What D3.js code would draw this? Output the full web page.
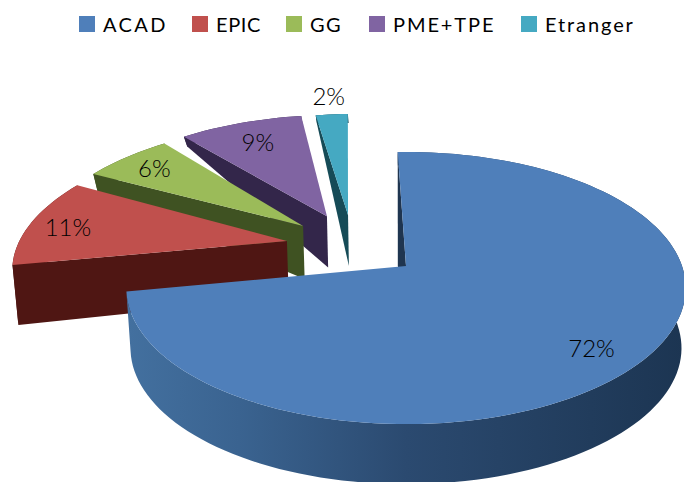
<!DOCTYPE html>
<html>
<head>
<meta charset="utf-8">
<script src="https://d3js.org/d3.v7.min.js"></script>
<style>
html, body { margin: 0; padding: 0; background: #fff; }
text { font-family: "Lato", sans-serif; fill: #000; }
</style>
</head>
<body>
<script>
var categories = ["ACAD", "EPIC", "GG", "PME+TPE", "Etranger"];
var shares = [72, 11, 6, 9, 2];
var labels = ["72%", "11%", "6%", "9%", "2%"];
var topColors = ["#4f7fba", "#c0504d", "#9bbb59", "#8064a2", "#45a9c2"];
var sideColors = ["#1f3550", "#4f1613", "#3f5222", "#33264a", "#164b57"];

var width = 684, height = 482;

// ground plane -> screen, the pie is seen in perspective
var cx = 406, cy = 266, rx = 276, ry = 132.5, persp = 0.162;

// how far each wedge is pulled out, on the ground plane
var pullX = [0, -0.445, -0.392, -0.305, -0.224];
var pullZ = [0, 0.194, 0.317, 0.4, 0.41];
// small corrections of the wedge edges, degrees
var turnStart = [-2, 0, -1, -1, -3];
var turnEnd = [0, 0, 0, -2, -2];
// label place: radius and turn from the middle of the wedge
var labelR = [0.83, 0.85, 0.83, 0.78, 1.22];
var labelTurn = [4, -1, 0, 0, 0];
// ACAD's cut face drops further than its back wall
var cutDrop = [100, 0, 0, 0, 0];

// the wall gets thin towards the back
var depth = d3.scaleLinear()
	.domain([0, 0.41, 0.8, 1.2])
	.range([60, 51, 18, 9])
	.clamp(true);

var legendX = d3.scaleOrdinal().domain(categories).range([79, 192, 286, 369, 521]);
var legendSpacing = [2.4, 0.6, 1.4, 1.9, 1.9];

var svg = d3.select("body").append("svg")
	.attr("width", width)
	.attr("height", height)
	.style("display", "block");

var defs = svg.append("defs");
var wallFill = defs.append("linearGradient")
	.attr("id", "wallFill")
	.attr("gradientUnits", "userSpaceOnUse")
	.attr("x1", 128).attr("x2", 684).attr("y1", 0).attr("y2", 0);
wallFill.append("stop").attr("offset", "0").attr("stop-color", "#43709f");
wallFill.append("stop").attr("offset", "0.2").attr("stop-color", "#3a6390");
wallFill.append("stop").attr("offset", "0.5").attr("stop-color", "#2b4a70");
wallFill.append("stop").attr("offset", "1").attr("stop-color", "#1c3552");

function project(X, Z) {
	var s = 1 / (1 + persp * Z);
	return [cx + rx * X * s, cy - ry * Z * s];
}

var pie = d3.pie().sort(null);
var arcs = pie(shares);
var rad = Math.PI / 180;
var line = d3.line();

function wedge(i) {
	return {
		a0: arcs[i].startAngle + turnStart[i] * rad,
		a1: arcs[i].endAngle + turnEnd[i] * rad,
		ox: pullX[i],
		oz: pullZ[i]
	};
}

function rim(w) {
	var pts = [], steps = Math.ceil((w.a1 - w.a0) / (2 * rad));
	d3.range(steps + 1).forEach(function (k) {
		var a = w.a0 + (w.a1 - w.a0) * k / steps;
		pts.push([w.ox + Math.sin(a), w.oz + Math.cos(a)]);
	});
	return pts;
}

function topPoint(p) {
	return project(p[0], p[1]);
}

function lowPoint(p) {
	var q = project(p[0], p[1]);
	return [cx + (q[0] - cx) * 0.985, q[1] + depth(p[1])];
}

var slices = svg.append("g");

// back wedges first, ACAD sits on top of everything
d3.range(categories.length).reverse().forEach(function (i) {
	var w = wedge(i);
	var g = slices.append("g");
	var outer = rim(w);
	var apex = [w.ox, w.oz];
	var fill = i === 0 ? "url(#wallFill)" : sideColors[i];

	// outer wall
	g.append("path")
		.attr("d", line(outer.map(topPoint).concat(outer.slice().reverse().map(lowPoint))) + "Z")
		.attr("fill", fill);

	// the cut face that looks at us
	var edgeLow = lowPoint(outer[0]);
	g.append("path")
		.attr("d", line([topPoint(outer[0]), topPoint(apex), lowPoint(apex), [edgeLow[0], edgeLow[1] + cutDrop[i]]]) + "Z")
		.attr("fill", sideColors[i]);

	g.append("path")
		.attr("d", line([topPoint(apex)].concat(outer.map(topPoint))) + "Z")
		.attr("fill", topColors[i]);
});

// labels
svg.append("g").selectAll("text")
	.data(labels)
	.enter()
	.append("text")
	.text(function (d) { return d; })
	.attr("text-anchor", "middle")
	.attr("dominant-baseline", "central")
	.attr("font-size", 24)
	.attr("font-weight", 300)
	.attr("transform", function (d, i) {
		var w = wedge(i);
		var mid = (w.a0 + w.a1) / 2 + labelTurn[i] * rad;
		var p = project(w.ox + labelR[i] * Math.sin(mid), w.oz + labelR[i] * Math.cos(mid));
		return "translate(" + p[0] + "," + p[1] + ")";
	});

// legend
var legend = svg.append("g").selectAll("g")
	.data(categories)
	.enter()
	.append("g")
	.attr("transform", function (d) { return "translate(" + legendX(d) + ",16)"; });

legend.append("rect")
	.attr("width", 16)
	.attr("height", 16)
	.attr("fill", function (d, i) { return topColors[i]; });

legend.append("text")
	.text(function (d) { return d; })
	.attr("x", 24)
	.attr("y", 8)
	.attr("dominant-baseline", "central")
	.attr("font-size", 20)
	.attr("letter-spacing", function (d, i) { return legendSpacing[i]; });
</script>
</body>
</html>
